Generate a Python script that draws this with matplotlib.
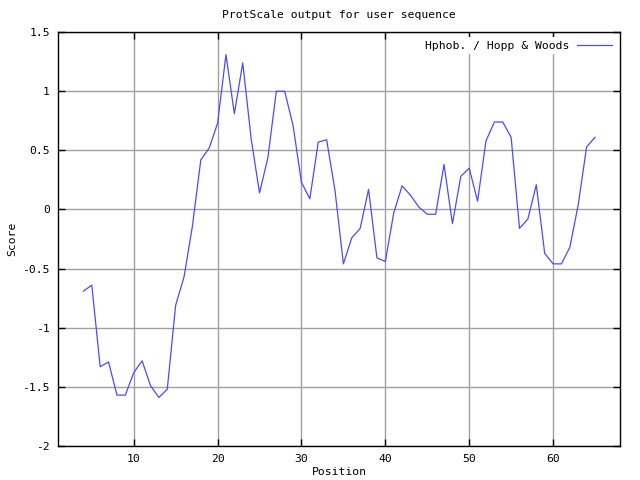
import numpy as np
import matplotlib.pyplot as plt
from matplotlib.ticker import FuncFormatter

# Data (Hopp & Woods hydrophobicity, window centre positions)
position = np.arange(4, 66)
score = [-0.69, -0.64, -1.33, -1.29, -1.57, -1.57, -1.38, -1.28, -1.49, -1.59,
         -1.52, -0.81, -0.57, -0.14, 0.42, 0.52, 0.73, 1.31, 0.81, 1.24,
         0.60, 0.14, 0.44, 1.00, 1.00, 0.71, 0.23, 0.09, 0.57, 0.59,
         0.16, -0.46, -0.24, -0.16, 0.17, -0.41, -0.44, -0.03, 0.20, 0.12,
         0.02, -0.04, -0.04, 0.38, -0.12, 0.28, 0.35, 0.07, 0.58, 0.74,
         0.74, 0.61, -0.16, -0.08, 0.21, -0.37, -0.46, -0.46, -0.32, 0.04,
         0.53, 0.61]

xticks = [10, 20, 30, 40, 50, 60]
yticks = [-2, -1.5, -1, -0.5, 0, 0.5, 1, 1.5]

plt.rcParams['font.family'] = 'DejaVu Sans Mono'
plt.rcParams['font.size'] = 8.2

fig = plt.figure(figsize=(6.4, 4.8), dpi=100)
ax = fig.add_axes([0.091, 0.071, 0.878, 0.862])

ax.plot(position, score, color='#4a4aff', lw=0.9, label='Hphob. / Hopp & Woods')

ax.set_xlim(1, 68)
ax.set_ylim(-2, 1.5)
ax.set_xticks(xticks)
ax.set_yticks(yticks)
ax.yaxis.set_major_formatter(FuncFormatter(lambda v, p: '%g' % v))
ax.grid(True, color='#a0a0a0', lw=1)
ax.set_axisbelow(True)
ax.tick_params(direction='in', top=True, right=True, length=5, width=1, pad=6)
for s in ax.spines.values():
    s.set_linewidth(1)

fig.text(0.53, 0.969, 'ProtScale output for user sequence', ha='center', va='center')
ax.set_xlabel('Position')
ax.xaxis.set_label_coords(0.5, -0.052)
ax.set_ylabel('Score')
ax.yaxis.set_label_coords(-0.073, 0.5)

leg = ax.legend(loc='upper right', frameon=True, fancybox=False,
                edgecolor='none', facecolor='white', framealpha=1,
                markerfirst=False, handlelength=3.0, handletextpad=0.7,
                borderaxespad=0.45, borderpad=0.3)

fig.savefig('out.png', dpi=100)
